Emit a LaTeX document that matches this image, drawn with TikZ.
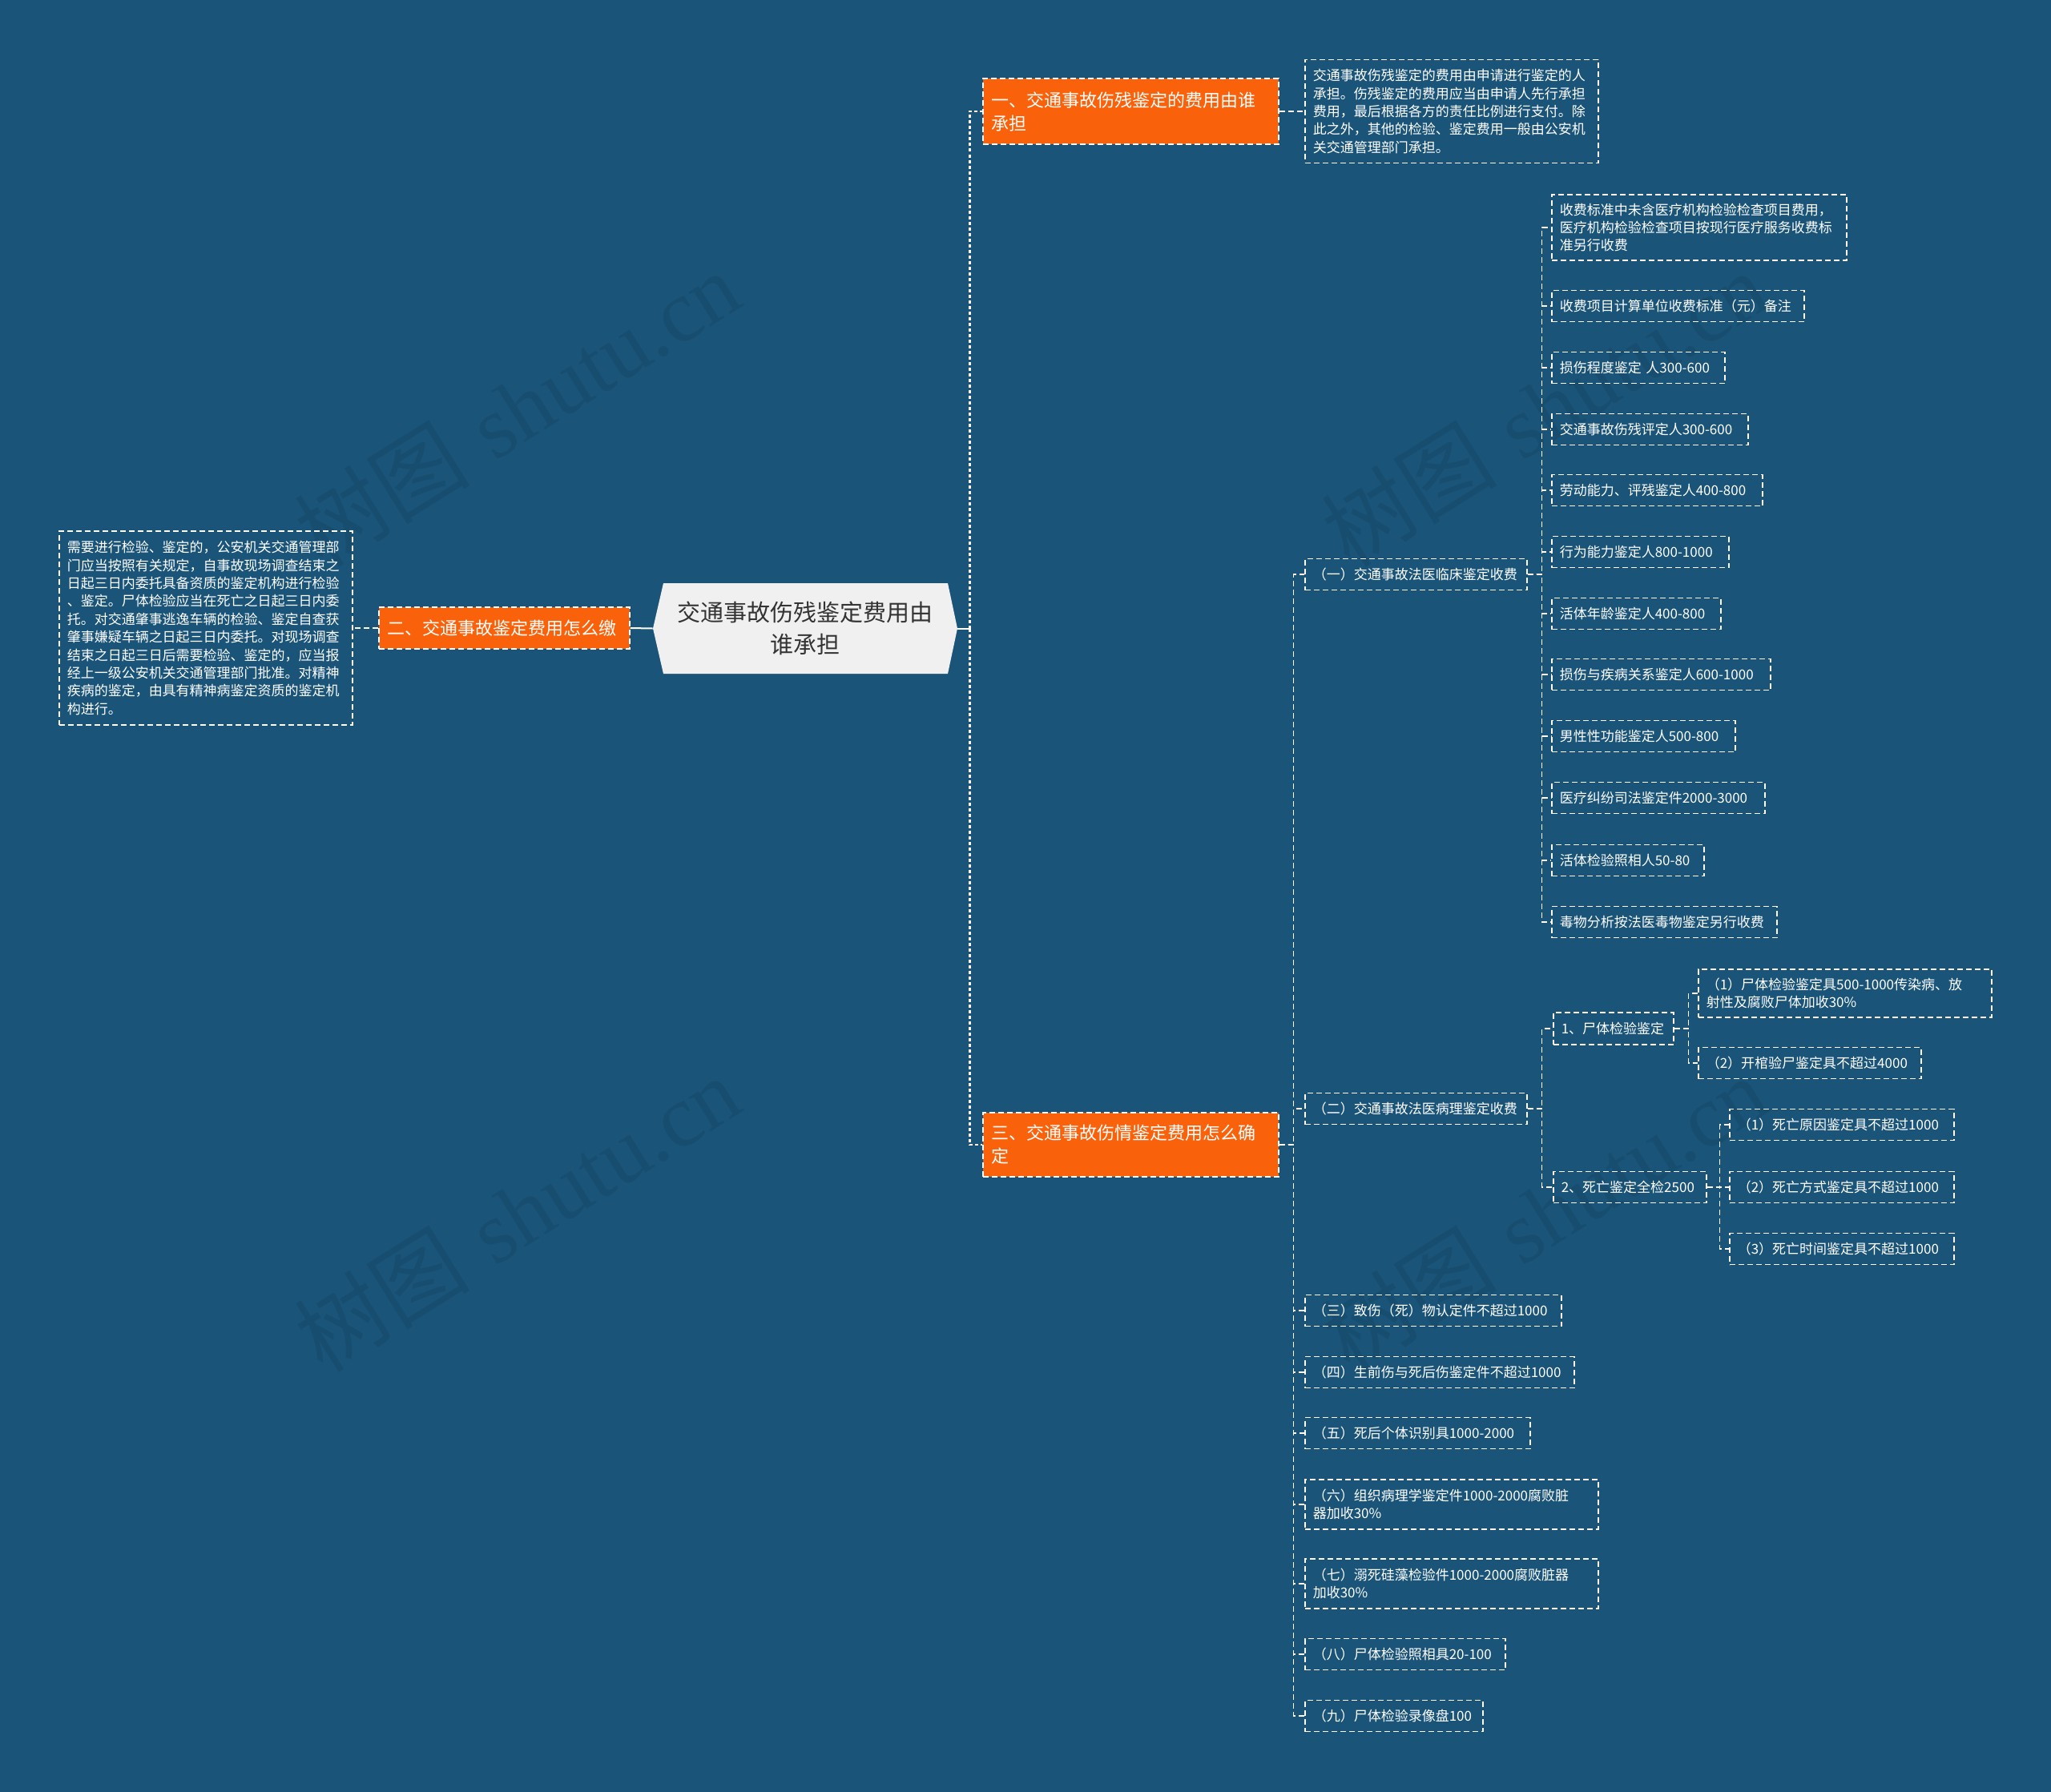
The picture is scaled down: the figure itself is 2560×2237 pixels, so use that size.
\documentclass[tikz,border=0pt]{standalone}
\usepackage{fontspec}
\newfontfamily\cjk{Noto Sans CJK SC}
\newfontfamily\wmserif{Liberation Serif}
\usetikzlibrary{calc}
\definecolor{bgc}{HTML}{1A5479}
\definecolor{orangec}{HTML}{F9620A}
\definecolor{rootfill}{HTML}{F0F0F0}
\definecolor{roottext}{HTML}{333333}
\begin{document}
\begin{tikzpicture}[x=0.5pt,y=-0.5pt,
  box/.style={draw=white, dash pattern=on 3.5pt off 2pt, line width=0.75pt, text=white,
    font=\cjk\fontsize{8.5}{11.2}\selectfont, align=left, anchor=west,
    inner xsep=5pt, inner ysep=0pt, minimum height=19.5pt},
  orangebox/.style={box, fill=orangec, font=\cjk\fontsize{11}{14.5}\selectfont, inner xsep=5.5pt},
  conn/.style={draw=white, dash pattern=on 3.5pt off 2pt, line width=0.75pt},
  trunk/.style={draw=white, dash pattern=on 2pt off 1.5pt, line width=1.1pt},
  solidc/.style={draw=white, line width=1pt},
  wm/.style={text=black, opacity=0.08, rotate=32, font=\cjk\fontsize{55}{60}\selectfont}
]
\fill[bgc] (0,0) rectangle (2560,2237);
\useasboundingbox (0,0) rectangle (2560,2237);

% watermarks
\node[wm] (wm1) at (645,510) {树图\hspace{0.3em}{\wmserif shutu.cn}};
\node[wm] (wm2) at (645,1515) {树图\hspace{0.3em}{\wmserif shutu.cn}};
\node[wm] (wm3) at (1927,510) {树图\hspace{0.3em}{\wmserif shutu.cn}};
\node[wm] (wm4) at (1927,1515) {树图\hspace{0.3em}{\wmserif shutu.cn}};

% root
\coordinate (rc) at (1005,784.5);
\fill[rootfill] ($(rc)+(-190,0)$) -- ($(rc)+(-177,-56.5)$) -- ($(rc)+(178,-56.5)$) -- ($(rc)+(190,0)$)
  -- ($(rc)+(178,56.5)$) -- ($(rc)+(-177,56.5)$) -- cycle;
\node[font=\cjk\fontsize{14.5}{20}\selectfont, text=roottext, align=center,
  minimum width=190pt, minimum height=56.5pt, inner sep=0pt] (root) at (rc)
  {交通事故伤残鉴定费用由\\谁承担};

% level 1
\node[orangebox, text width=173.5pt, minimum height=41pt] (n1) at (1226,139)
  {一、交通事故伤残鉴定的费用由谁\\承担};
\node[orangebox, text width=145.5pt, minimum height=26pt] (n2) at (472,784)
  {二、交通事故鉴定费用怎么缴};
\node[orangebox, text width=173.5pt, minimum height=40pt] (n3) at (1226,1429)
  {三、交通事故伤情鉴定费用怎么确\\定};

% text boxes
\node[box, text width=173pt, minimum height=64.5pt] (n1t) at (1628,139)
  {交通事故伤残鉴定的费用由申请进行鉴定的人\\承担。伤残鉴定的费用应当由申请人先行承担\\费用，最后根据各方的责任比例进行支付。除\\此之外，其他的检验、鉴定费用一般由公安机\\关交通管理部门承担。};
\node[box, text width=173pt, minimum height=121pt] (n2t) at (73,784)
  {需要进行检验、鉴定的，公安机关交通管理部\\门应当按照有关规定，自事故现场调查结束之\\日起三日内委托具备资质的鉴定机构进行检验\\、鉴定。尸体检验应当在死亡之日起三日内委\\托。对交通肇事逃逸车辆的检验、鉴定自查获\\肇事嫌疑车辆之日起三日内委托。对现场调查\\结束之日起三日后需要检验、鉴定的，应当报\\经上一级公安机关交通管理部门批准。对精神\\疾病的鉴定，由具有精神病鉴定资质的鉴定机\\构进行。};

% level 2 under 三
\node[box, text width=128.5pt] (a) at (1628,717) {（一）交通事故法医临床鉴定收费};
\node[box, text width=128.5pt] (b) at (1628,1384) {（二）交通事故法医病理鉴定收费};
\node[box, text width=150pt] (c) at (1628,1636) {（三）致伤（死）物认定件不超过1000};
\node[box, text width=158pt] (d) at (1628,1713) {（四）生前伤与死后伤鉴定件不超过1000};
\node[box, text width=130.5pt] (e) at (1628,1789) {（五）死后个体识别具1000-2000};
\node[box, text width=173pt, minimum height=31pt] (f) at (1628,1878) {（六）组织病理学鉴定件1000-2000腐败脏\\器加收30\%};
\node[box, text width=173pt, minimum height=31pt] (g) at (1628,1977) {（七）溺死硅藻检验件1000-2000腐败脏器\\加收30\%};
\node[box, text width=115pt] (h) at (1628,2065) {（八）尸体检验照相具20-100};
\node[box, text width=101pt] (i) at (1628,2142) {（九）尸体检验录像盘100};

% children of (一)
\node[box, text width=174pt, minimum height=41pt] (a1) at (1936,284) {收费标准中未含医疗机构检验检查项目费用，\\医疗机构检验检查项目按现行医疗服务收费标\\准另行收费};
\node[box, text width=147.5pt] (a2) at (1936,382) {收费项目计算单位收费标准（元）备注};
\node[box, text width=98pt] (a3) at (1936,459) {损伤程度鉴定 人300-600};
\node[box, text width=112.5pt] (a4) at (1936,536) {交通事故伤残评定人300-600};
\node[box, text width=121.5pt] (a5) at (1936,612) {劳动能力、评残鉴定人400-800};
\node[box, text width=100.5pt] (a6) at (1936,689) {行为能力鉴定人800-1000};
\node[box, text width=95.5pt] (a7) at (1936,766) {活体年龄鉴定人400-800};
\node[box, text width=126.5pt] (a8) at (1936,842) {损伤与疾病关系鉴定人600-1000};
\node[box, text width=104.5pt] (a9) at (1936,919) {男性性功能鉴定人500-800};
\node[box, text width=123pt] (a10) at (1936,996) {医疗纠纷司法鉴定件2000-3000};
\node[box, text width=85pt] (a11) at (1936,1074) {活体检验照相人50-80};
\node[box, text width=130.5pt] (a12) at (1936,1151) {毒物分析按法医毒物鉴定另行收费};

% children of (二)
\node[box, text width=65pt, minimum height=20pt] (b1) at (1938,1284) {1、尸体检验鉴定};
\node[box, text width=85.5pt] (b2) at (1938,1482) {2、死亡鉴定全检2500};
\node[box, text width=173pt, minimum height=30pt] (b11) at (2119,1240) {（1）尸体检验鉴定具500-1000传染病、放\\射性及腐败尸体加收30\%};
\node[box, text width=129pt] (b12) at (2119,1327) {（2）开棺验尸鉴定具不超过4000};
\node[box, text width=130pt] (b21) at (2158,1404) {（1）死亡原因鉴定具不超过1000};
\node[box, text width=130pt] (b22) at (2158,1482) {（2）死亡方式鉴定具不超过1000};
\node[box, text width=130pt] (b23) at (2158,1559) {（3）死亡时间鉴定具不超过1000};

% connectors
\draw[solidc] (root.west) -- (n2.east);
\draw[conn] (n2.west) -- (n2t.east);
\draw[solidc] (root.east) -- ++(15,0) coordinate (tk);
\draw[trunk] (tk) |- (n1.west);
\draw[trunk] (tk) |- (n3.west);
\draw[conn] (n1.east) -- (n1t.west);
\foreach \c in {a,b,c,d,e,f,g,h,i}
  \draw[conn] (n3.east) -- ++(18,0) |- (\c.west);
\foreach \c in {a1,a2,a3,a4,a5,a6,a7,a8,a9,a10,a11,a12}
  \draw[conn] (a.east) -- ++(18,0) |- (\c.west);
\foreach \c in {b1,b2}
  \draw[conn] (b.east) -- ++(18,0) |- (\c.west);
\foreach \c in {b11,b12}
  \draw[conn] (b1.east) -- ++(18,0) |- (\c.west);
\foreach \c in {b21,b22,b23}
  \draw[conn] (b2.east) -- ++(16,0) |- (\c.west);
\end{tikzpicture}
\end{document}
